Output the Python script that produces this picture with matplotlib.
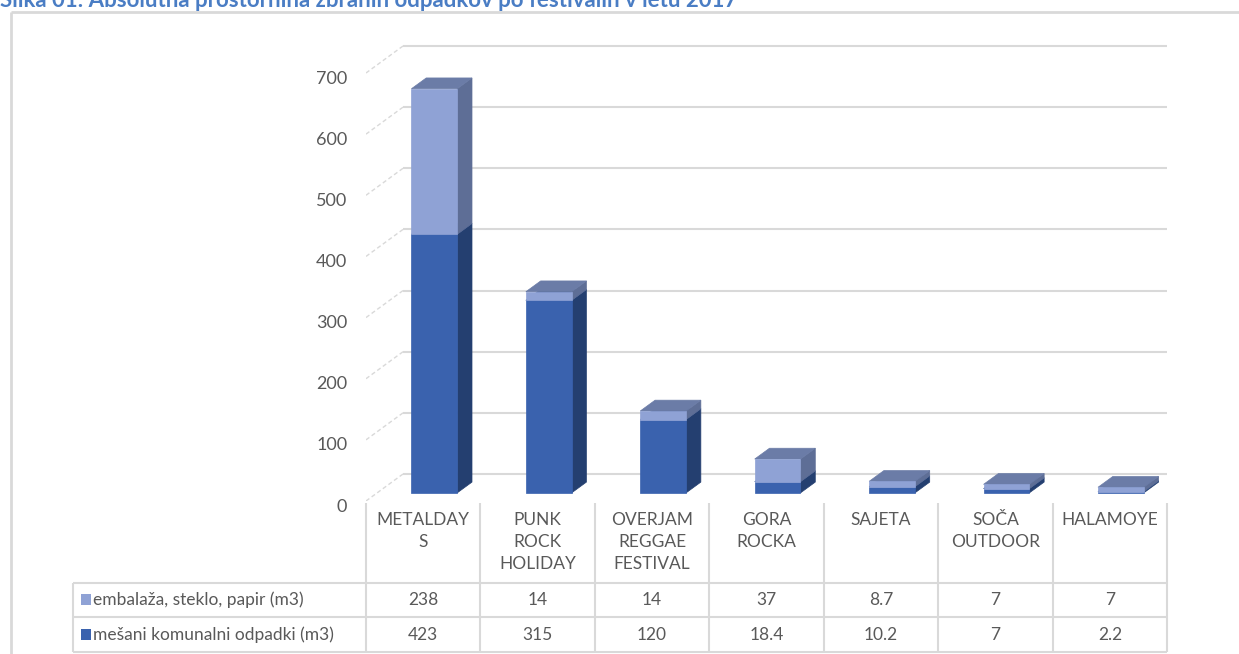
import matplotlib
matplotlib.use("Agg")
import matplotlib.pyplot as plt
from matplotlib.patches import Polygon
from matplotlib.transforms import ScaledTranslation

# ---------------- data ----------------
categories = ["METALDAYS", "PUNK ROCK HOLIDAY", "OVERJAM REGGAE FESTIVAL",
              "GORA ROCKA", "SAJETA", "SOČA OUTDOOR", "HALAMOYE"]
category_labels = ["METALDAY\nS", "PUNK\nROCK\nHOLIDAY", "OVERJAM\nREGGAE\nFESTIVAL",
                   "GORA\nROCKA", "SAJETA", "SOČA\nOUTDOOR", "HALAMOYE"]
series_names = ["embalaža, steklo, papir (m3)", "mešani komunalni odpadki (m3)"]
embalaza = [238, 14, 14, 37, 8.7, 7, 7]
mesani = [423, 315, 120, 18.4, 10.2, 7, 2.2]
embalaza_txt = ["238", "14", "14", "37", "8.7", "7", "7"]
mesani_txt = ["423", "315", "120", "18.4", "10.2", "7", "2.2"]
yticks = [0, 100, 200, 300, 400, 500, 600, 700]
title = "Slika 01: Absolutna prostornina zbranih odpadkov po festivalih v letu 2017"

# ---------------- style ----------------
W, H = 1239, 654
FONT = "Lato"
TXT = "#595959"
GRID = "#D9D9D9"
C_LIGHT = {"front": "#8FA2D5", "side": "#5E6E96", "top": "#6B7CA7"}
C_DARK = {"front": "#3A62AE", "side": "#243F70", "top": "#2F4F8C"}

fig = plt.figure(figsize=(W / 100, H / 100), dpi=100)
fig.patch.set_facecolor("white")

# layout overlay in pixel coordinates (frame, title, table)
lay = fig.add_axes([0, 0, 1, 1], zorder=0)
lay.set_xlim(0, W)
lay.set_ylim(H, 0)
lay.axis("off")
lay.patch.set_alpha(0)

# outer frame
lay.plot([11, W], [12, 12], color=GRID, lw=2, solid_capstyle="butt")
lay.plot([11, 11], [12, H], color=GRID, lw=2, solid_capstyle="butt")

# title (its upper part lies above the picture, as in the reference)
lay.text(0, 7, title, fontsize=16, fontweight="bold", color="#4A7DC4",
         family=FONT, ha="left", va="baseline")

# ---------------- main (pseudo 3D) axes ----------------
x_left, x_right = 366, 1167
y_zero, y_700, y_top = 501, 73, 20
px_per_unit = (y_zero - y_700) / 700.0
ax = fig.add_axes([x_left / W, (H - y_zero) / H, (x_right - x_left) / W, (y_zero - y_top) / H],
                  zorder=1)
ax.patch.set_alpha(0)
ax.set_xlim(-0.5, len(categories) - 0.5)
ax.set_ylim(0, (y_zero - y_top) / px_per_unit)
for s in ax.spines.values():
    s.set_visible(False)
ax.set_xticks([])
ax.set_yticks(yticks)
ax.set_yticklabels([str(v) for v in yticks])
ax.tick_params(axis="y", length=0, pad=13.5, labelsize=13, labelcolor=TXT)
for lbl in ax.get_yticklabels():
    lbl.set_family(FONT)
    lbl.set_transform(lbl.get_transform() + ScaledTranslation(0, -4 / 100, fig.dpi_scale_trans))

cat_px = (x_right - x_left) / len(categories)
Dx = 37 / cat_px          # depth offset in category units
Dy = 27 / px_per_unit     # depth offset in value units

# back wall gridlines and dashed side-wall lines
for v in yticks:
    ax.plot([-0.5 + Dx, len(categories) - 0.5 + Dx], [v + Dy, v + Dy],
            color=GRID, lw=1.5, zorder=1, solid_capstyle="butt")
    ax.plot([-0.5, -0.5 + Dx], [v, v + Dy], color=GRID, lw=1.0,
            ls=(0, (3, 2)), zorder=1)

f0, f1, hw = 0.3, 0.7, 0.2


def box(i, a, b, col):
    x0 = i - hw + f0 * Dx
    x1 = i + hw + f0 * Dx
    ddx = (f1 - f0) * Dx
    y0 = a + f0 * Dy
    y1 = b + f0 * Dy
    ddy = (f1 - f0) * Dy
    front = [(x0, y0), (x1, y0), (x1, y1), (x0, y1)]
    side = [(x1, y0), (x1 + ddx, y0 + ddy), (x1 + ddx, y1 + ddy), (x1, y1)]
    top = [(x0, y1), (x1, y1), (x1 + ddx, y1 + ddy), (x0 + ddx, y1 + ddy)]
    for pts, key in ((side, "side"), (top, "top"), (front, "front")):
        ax.add_patch(Polygon(pts, closed=True, facecolor=col[key],
                             edgecolor=col[key], lw=0.5, zorder=3))


for i in range(len(categories)):
    box(i, 0, mesani[i], C_DARK)
    box(i, mesani[i], mesani[i] + embalaza[i], C_LIGHT)

# ---------------- data table ----------------
cols_x = [x_left + k * cat_px for k in range(len(categories) + 1)]
hdr_top, r1, r2, r3 = 503, 583, 617, 652
tbl_left = 73
for x in cols_x:
    lay.plot([x, x], [hdr_top, r3], color=GRID, lw=1.5, solid_capstyle="butt")
lay.plot([tbl_left, tbl_left], [r1, r3], color=GRID, lw=1.5, solid_capstyle="butt")
for y in (r1, r2, r3):
    lay.plot([tbl_left, x_right], [y, y], color=GRID, lw=1.5, solid_capstyle="butt")

for k, lab in enumerate(category_labels):
    cx = (cols_x[k] + cols_x[k + 1]) / 2
    lay.text(cx, 512, lab, ha="center", va="top", fontsize=12.5, color=TXT,
             family=FONT, linespacing=1.45)

rows = [(embalaza_txt, C_LIGHT["front"], series_names[0], (r1 + r2) / 2),
        (mesani_txt, C_DARK["front"], series_names[1], (r2 + r3) / 2)]
for txts, col, name, yc in rows:
    lay.add_patch(plt.Rectangle((81, yc - 6), 10, 11, facecolor=col, edgecolor="none"))
    lay.text(93, yc, name, ha="left", va="center", fontsize=12.5, color=TXT, family=FONT)
    for k, t in enumerate(txts):
        cx = (cols_x[k] + cols_x[k + 1]) / 2
        lay.text(cx, yc, t, ha="center", va="center", fontsize=12.5, color=TXT, family=FONT)

fig.savefig("out.png", dpi=100, facecolor="white")
